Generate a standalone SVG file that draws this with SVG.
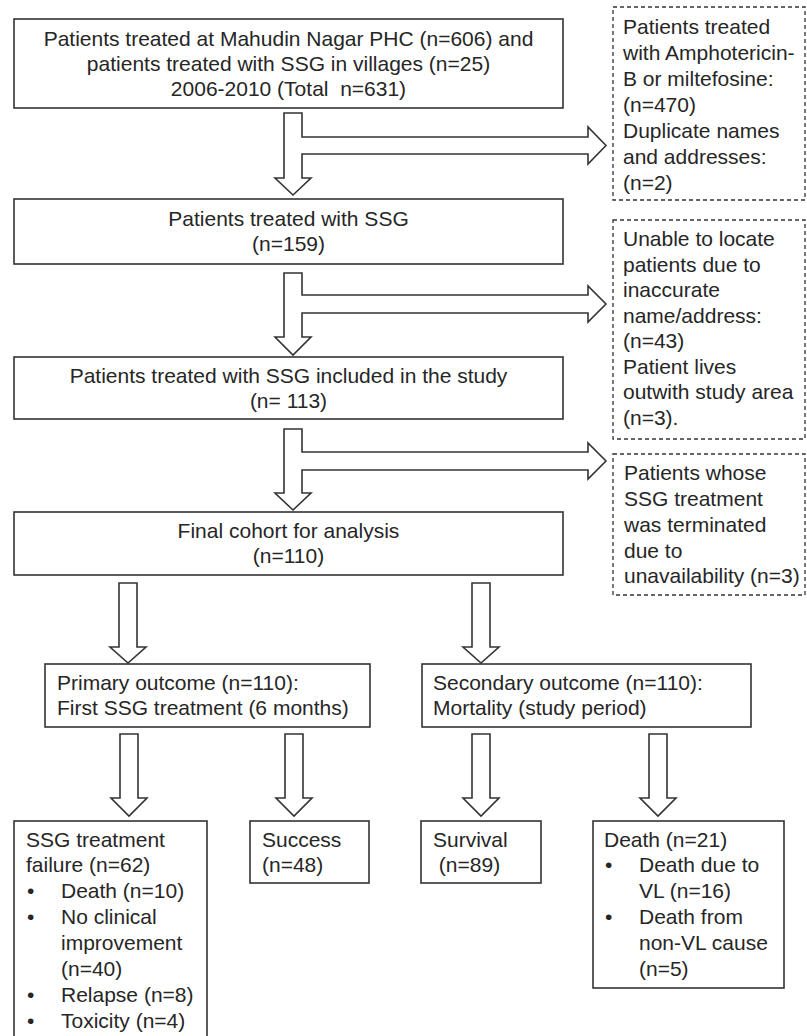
<svg xmlns="http://www.w3.org/2000/svg" width="807" height="1036" viewBox="0 0 807 1036">
<style>
text{font-family:"Liberation Sans",Arial,sans-serif;font-size:21px;fill:#262626;white-space:pre}
.box{fill:#fff;stroke:#333;stroke-width:1.6}
.dash{fill:#fff;stroke:#333;stroke-width:1.3;stroke-dasharray:4 3}
.arr{fill:#fff;stroke:#333;stroke-width:1.6;stroke-linejoin:miter}
.c{text-anchor:middle}
</style>
<rect width="807" height="1036" fill="#fff"/>
<g id="connectors">
<polygon class="arr" points="284,113 302,113 302,137 588,137 588,127 606,145.5 588,164 588,154 302,154 302,178 311,178 293,195 275,178 284,178"/>
<polygon class="arr" points="284,273 302,273 302,295 588,295 588,286 606,304 588,322 588,313 302,313 302,337 311,337 293,355 275,337 284,337"/>
<polygon class="arr" points="284,429 302,429 302,452 588,452 588,443 606,461 588,479 588,470 302,470 302,493 311,493 293,510 275,493 284,493"/>
<polygon class="arr" points="119,583 137,583 137,647 146,647 128,663 110,647 119,647"/>
<polygon class="arr" points="472,583 490,583 490,647 499,647 481,663 463,647 472,647"/>
<polygon class="arr" points="120,734 138,734 138,798 147,798 129,816 111,798 120,798"/>
<polygon class="arr" points="285,734 303,734 303,798 312,798 294,816 276,798 285,798"/>
<polygon class="arr" points="472,734 490,734 490,798 499,798 481,816 463,798 472,798"/>
<polygon class="arr" points="649,734 667,734 667,798 676,798 658,816 640,798 649,798"/>
</g>
<g id="n_total">
<rect class="box" x="14" y="19" width="549" height="89"/>
<text class="c" x="288.5" y="46">Patients treated at Mahudin Nagar PHC (n=606) and</text>
<text class="c" x="288.5" y="71">patients treated with SSG in villages (n=25)</text>
<text class="c" x="288.5" y="96">2006-2010 (Total  n=631)</text>
</g>
<g id="n_ssg">
<rect class="box" x="14" y="199" width="549" height="65"/>
<text class="c" x="288.5" y="226">Patients treated with SSG</text>
<text class="c" x="288.5" y="251">(n=159)</text>
</g>
<g id="n_included">
<rect class="box" x="14" y="357" width="549" height="62"/>
<text class="c" x="288.5" y="383">Patients treated with SSG included in the study</text>
<text class="c" x="288.5" y="408">(n= 113)</text>
</g>
<g id="n_final">
<rect class="box" x="14" y="512" width="549" height="63"/>
<text class="c" x="288.5" y="538">Final cohort for analysis</text>
<text class="c" x="288.5" y="563">(n=110)</text>
</g>
<g id="x_ampho">
<rect class="dash" x="613" y="7" width="192" height="193"/>
<text x="623" y="34">Patients treated</text>
<text x="623" y="60">with Amphotericin-</text>
<text x="623" y="86">B or miltefosine:</text>
<text x="623" y="112">(n=470)</text>
<text x="623" y="138">Duplicate names</text>
<text x="623" y="164">and addresses:</text>
<text x="623" y="190">(n=2)</text>
</g>
<g id="x_locate">
<rect class="dash" x="613" y="220" width="192" height="219"/>
<text x="623" y="246">Unable to locate</text>
<text x="623" y="272">patients due to</text>
<text x="623" y="297">inaccurate</text>
<text x="623" y="323">name/address:</text>
<text x="623" y="348">(n=43)</text>
<text x="623" y="374">Patient lives</text>
<text x="623" y="399">outwith study area</text>
<text x="623" y="425">(n=3).</text>
</g>
<g id="x_terminated">
<rect class="dash" x="613" y="454" width="192" height="141"/>
<text x="624" y="480">Patients whose</text>
<text x="624" y="506">SSG treatment</text>
<text x="624" y="532">was terminated</text>
<text x="624" y="558">due to</text>
<text x="624" y="583">unavailability (n=3)</text>
</g>
<g id="n_primary">
<rect class="box" x="45" y="664" width="325" height="63"/>
<text x="57" y="690">Primary outcome (n=110):</text>
<text x="57" y="715">First SSG treatment (6 months)</text>
</g>
<g id="n_secondary">
<rect class="box" x="422" y="664" width="329" height="63"/>
<text x="433" y="690">Secondary outcome (n=110):</text>
<text x="433" y="715">Mortality (study period)</text>
</g>
<g id="n_failure">
<rect class="box" x="14" y="821" width="193" height="220"/>
<text x="26" y="847">SSG treatment</text>
<text x="26" y="872">failure (n=62)</text>
<text x="27" y="898">•</text><text x="61" y="898">Death (n=10)</text>
<text x="27" y="924">•</text><text x="61" y="924">No clinical</text>
<text x="61" y="950">improvement</text>
<text x="61" y="976">(n=40)</text>
<text x="27" y="1002">•</text><text x="61" y="1002">Relapse (n=8)</text>
<text x="27" y="1028">•</text><text x="61" y="1028">Toxicity (n=4)</text>
</g>
<g id="n_success">
<rect class="box" x="250" y="821" width="119" height="62"/>
<text x="262" y="847">Success</text>
<text x="262" y="872">(n=48)</text>
</g>
<g id="n_survival">
<rect class="box" x="421" y="821" width="120" height="62"/>
<text x="433" y="847">Survival</text>
<text x="433" y="872"> (n=89)</text>
</g>
<g id="n_death">
<rect class="box" x="593" y="821" width="191" height="167"/>
<text x="604" y="847">Death (n=21)</text>
<text x="605" y="872">•</text><text x="639" y="872">Death due to</text>
<text x="639" y="898">VL (n=16)</text>
<text x="605" y="924">•</text><text x="639" y="924">Death from</text>
<text x="639" y="950">non-VL cause</text>
<text x="639" y="976">(n=5)</text>
</g>
</svg>
